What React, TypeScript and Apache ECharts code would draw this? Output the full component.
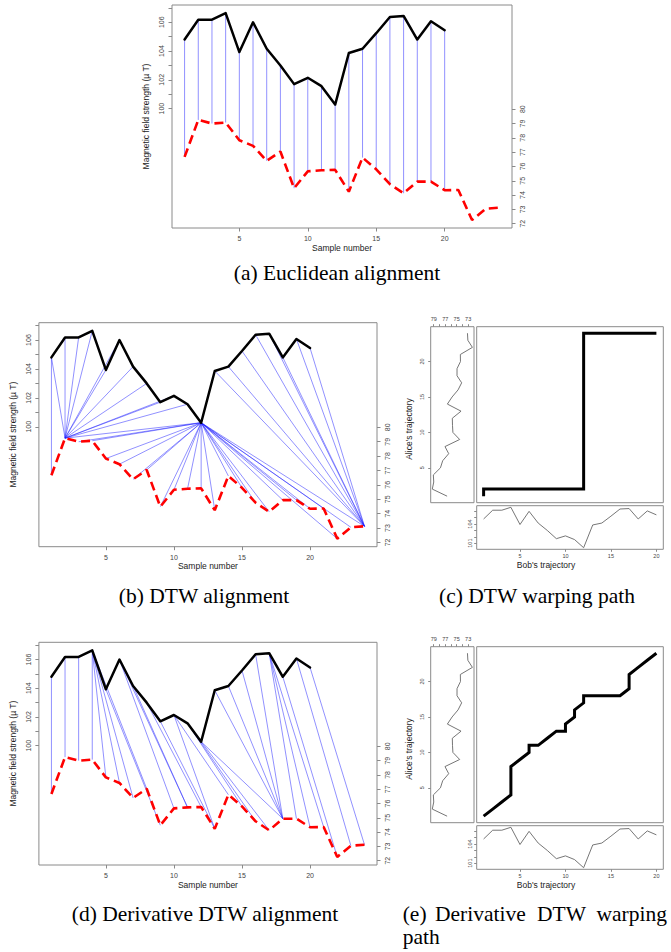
import React, { useEffect, useRef } from "react";
import * as echarts from "echarts";

// ---------------- data ----------------
const bobSamples = [1, 2, 3, 4, 5, 6, 7, 8, 9, 10, 11, 12, 13, 14, 15, 16, 17, 18, 19, 20];
const aliceSamples = [1, 2, 3, 4, 5, 6, 7, 8, 9, 10, 11, 12, 13, 14, 15, 16, 17, 18, 19, 20, 21, 22, 23, 24];

// Bob's trajectory (black, left axis, µT)
const bobField = [104.8, 106.18, 106.18, 106.64, 103.93, 106.0, 104.16, 103.0, 101.7, 102.14,
  101.56, 100.28, 103.86, 104.16, 105.24, 106.37, 106.44, 104.8, 106.07, 105.45];
// Alice's trajectory (red dashed, right axis, µT)
const aliceField = [76.67, 79.25, 79.0, 79.07, 77.83, 77.44, 76.39, 77.04, 74.48, 75.66,
  75.73, 75.76, 74.24, 76.62, 75.8, 74.76, 74.13, 74.94, 74.94, 74.34, 74.36, 72.26, 73.05, 73.12];

// Alignment pairs (Bob index -> Alice index)
const euclidBob = [1, 2, 3, 4, 5, 6, 7, 8, 9, 10, 11, 12, 13, 14, 15, 16, 17, 18, 19, 20];
const euclidAlice = [1, 2, 3, 4, 5, 6, 7, 8, 9, 10, 11, 12, 13, 14, 15, 16, 17, 18, 19, 20];

const dtwBob = [1, 1, 2, 3, 4, 5, 6, 7, 8, 9, 10, 11,
  12, 12, 12, 12, 12, 12, 12, 12, 12, 12, 12, 12, 12, 12, 12, 12, 12, 12, 12, 12, 12, 12, 12,
  13, 14, 15, 16, 17, 18, 19, 20];
const dtwAlice = [1, 2, 2, 2, 2, 2, 2, 2, 2, 2, 2, 2,
  2, 3, 4, 5, 6, 7, 8, 9, 10, 11, 12, 13, 14, 15, 16, 17, 18, 19, 20, 21, 22, 23, 24,
  24, 24, 24, 24, 24, 24, 24, 24];

const ddtwBob = [1, 2, 3, 4, 4, 4, 4, 4, 5, 6, 6, 7, 8, 9, 10, 10, 11, 11, 12, 12, 13, 14, 15, 16, 17, 17, 17, 18, 19, 20];
const ddtwAlice = [1, 2, 3, 4, 5, 6, 7, 8, 9, 10, 11, 11, 12, 13, 13, 14, 15, 16, 17, 18, 18, 18, 18, 18, 19, 20, 21, 22, 23, 24];

// Tick values / labels
const sampleTicks = [5, 10, 15, 20];
const leftTicks = [100, 101, 102, 103, 104, 105, 106, 107];
const leftLabels = [100, 102, 104, 106];
const rightTicks = [72, 73, 74, 75, 76, 77, 78, 79, 80];
const aliceTicks = [73, 74, 75, 76, 77, 78, 79];
const aliceLabels = [73, 75, 77, 79];
const indexTicks = [5, 10, 15, 20];
const bobTicks = [101, 102, 103, 104, 105, 106];
const bobLabels = [101, 104];

// ---------------- styles ----------------
const SANS = "'Liberation Sans', Arial, Helvetica, sans-serif";
const SERIF = "'Liberation Serif', 'Times New Roman', serif";
const BOX = "#8a8a8a";
const LABEL = "#444";
const TITLE = "#222";
const CAP = 21.5;

const X_MIN = 0.08, X_MAX = 24.92;
const L_MIN = 91.7, L_MAX = 107.2;
const R_MIN = 71.7, R_MAX = 87.28;

const toLeft = (a: number) => L_MIN + ((a - R_MIN) * (L_MAX - L_MIN)) / (R_MAX - R_MIN);

function tickAxisCommon(ticks: number[], labels: number[], fontSize: number, margin: number, rotate = 0, tickLen = 3.5) {
  return {
    axisLine: { show: false },
    splitLine: { show: false },
    axisTick: { show: true, customValues: ticks, length: tickLen, lineStyle: { color: BOX, width: 1 } },
    axisLabel: {
      show: true, customValues: labels, fontSize, margin, rotate,
      color: LABEL, fontFamily: SANS,
    },
  };
}

function buildOption() {
  const grid: any[] = [];
  const xAxis: any[] = [];
  const yAxis: any[] = [];
  const series: any[] = [];

  const alignPanels = [
    { left: 172, top: 5, width: 340, height: 223, pb: euclidBob, pa: euclidAlice },
    { left: 36, top: 322.7, width: 341, height: 224, pb: dtwBob, pa: dtwAlice },
    { left: 36, top: 642.3, width: 341, height: 222.7, pb: ddtwBob, pa: ddtwAlice },
  ];

  alignPanels.forEach((p) => {
    const gi = grid.length;
    grid.push({
      left: p.left, top: p.top, width: p.width, height: p.height,
      show: true, borderColor: BOX, borderWidth: 1, backgroundColor: "transparent",
    });
    const xi = xAxis.length;
    xAxis.push({
      type: "value", gridIndex: gi, min: X_MIN, max: X_MAX,
      ...tickAxisCommon(sampleTicks, sampleTicks, 7, 7),
      name: "Sample number", nameLocation: "middle", nameGap: 15,
      nameTextStyle: { fontSize: 8.5, fontFamily: SANS, color: TITLE },
    });
    const yl = yAxis.length;
    yAxis.push({
      type: "value", gridIndex: gi, position: "left", min: L_MIN, max: L_MAX,
      ...tickAxisCommon(leftTicks, leftLabels, 7, 7, 90),
      name: "Magnetic field strength (\u00b5 T)", nameLocation: "middle", nameGap: 19,
      nameTextStyle: { fontSize: 8.5, fontFamily: SANS, color: TITLE },
    });
    const yr = yAxis.length;
    yAxis.push({
      type: "value", gridIndex: gi, position: "right", min: R_MIN, max: R_MAX,
      ...tickAxisCommon(rightTicks, rightTicks, 7, 7, 90),
    });

    const pairs = p.pb.map((b, k) => [b, p.pa[k]]);
    series.push({
      type: "custom", xAxisIndex: xi, yAxisIndex: yl, silent: true, z: 1,
      data: pairs,
      renderItem: (_params: any, api: any) => {
        const i = api.value(0);
        const j = api.value(1);
        const p1 = api.coord([bobSamples[i - 1], bobField[i - 1]]);
        const p2 = api.coord([aliceSamples[j - 1], toLeft(aliceField[j - 1])]);
        return {
          type: "line",
          shape: { x1: p1[0], y1: p1[1], x2: p2[0], y2: p2[1] },
          style: { stroke: "rgba(30,30,255,0.55)", lineWidth: 0.9 },
        };
      },
    });
    series.push({
      type: "line", xAxisIndex: xi, yAxisIndex: yl, z: 3, silent: true,
      data: bobField.map((v, i) => [bobSamples[i], v]),
      symbol: "none", lineStyle: { color: "#000", width: 2.5, cap: "round", join: "round" },
    });
    series.push({
      type: "line", xAxisIndex: xi, yAxisIndex: yr, z: 3, silent: true,
      data: aliceField.map((v, i) => [aliceSamples[i], v]),
      symbol: "none", lineStyle: { color: "#ff0000", width: 2.6, type: [9, 5] },
    });
  });

  const warpPanels = [
    { dy: 0, pb: dtwBob, pa: dtwAlice },
    { dy: 320, pb: ddtwBob, pa: ddtwAlice },
  ];

  warpPanels.forEach((w) => {
    const top = 326.7 + w.dy;
    // left sub-panel: Alice's trajectory
    const g1 = grid.length;
    grid.push({ left: 430.7, top, width: 43.3, height: 176, show: true, borderColor: BOX, borderWidth: 1, backgroundColor: "transparent" });
    const x1 = xAxis.length;
    xAxis.push({
      type: "value", gridIndex: g1, position: "top", inverse: true, min: 71.98, max: 79.53,
      ...tickAxisCommon(aliceTicks, aliceLabels, 5.5, 5, 0, 2.5),
    });
    const y1 = yAxis.length;
    yAxis.push({
      type: "value", gridIndex: g1, min: X_MIN, max: X_MAX,
      ...tickAxisCommon(indexTicks, indexTicks, 5.5, 6, 90, 2.5),
    });
    series.push({
      type: "line", xAxisIndex: x1, yAxisIndex: y1, silent: true,
      data: aliceField.map((v, i) => [v, aliceSamples[i]]),
      symbol: "none", lineStyle: { color: "#666", width: 0.9 },
    });

    // main panel: warping path
    const g2 = grid.length;
    grid.push({ left: 476.7, top, width: 186.6, height: 176, show: true, borderColor: BOX, borderWidth: 1, backgroundColor: "transparent" });
    const x2 = xAxis.length;
    xAxis.push({ type: "value", gridIndex: g2, min: 0.24, max: 20.76, show: false });
    const y2 = yAxis.length;
    yAxis.push({ type: "value", gridIndex: g2, min: X_MIN, max: X_MAX, show: false });
    series.push({
      type: "line", xAxisIndex: x2, yAxisIndex: y2, silent: true,
      data: w.pb.map((b, k) => [b, w.pa[k]]),
      symbol: "none", lineStyle: { color: "#000", width: 3, join: "miter" },
    });

    // bottom sub-panel: Bob's trajectory
    const g3 = grid.length;
    grid.push({ left: 476.7, top: 505.7 + w.dy, width: 186.6, height: 43.6, show: true, borderColor: BOX, borderWidth: 1, backgroundColor: "transparent" });
    const x3 = xAxis.length;
    xAxis.push({
      type: "value", gridIndex: g3, min: 0.24, max: 20.76,
      ...tickAxisCommon(indexTicks, indexTicks, 5.5, 4, 0, 2.5),
    });
    const y3 = yAxis.length;
    yAxis.push({
      type: "value", gridIndex: g3, min: 100.03, max: 106.89,
      ...tickAxisCommon(bobTicks, bobLabels, 5.5, 4, 90, 2.5),
    });
    series.push({
      type: "line", xAxisIndex: x3, yAxisIndex: y3, silent: true,
      data: bobField.map((v, i) => [bobSamples[i], v]),
      symbol: "none", lineStyle: { color: "#666", width: 0.9 },
    });
  });

  const txt = (text: string, x: number, y: number, opts: any = {}) => ({
    type: "text", x, y, silent: true, rotation: opts.rotation || 0,
    style: {
      text, fontSize: opts.fontSize || CAP, fontFamily: opts.fontFamily || SERIF,
      fill: opts.fill || "#000", align: opts.align || "center", verticalAlign: "middle",
    },
  });

  const graphic = [
    txt("Alice's trajectory", 409, 429, { fontSize: 8.5, fontFamily: SANS, fill: TITLE, rotation: Math.PI / 2 }),
    txt("Bob's trajectory", 546, 565, { fontSize: 8.5, fontFamily: SANS, fill: TITLE }),
    txt("Alice's trajectory", 409, 749, { fontSize: 8.5, fontFamily: SANS, fill: TITLE, rotation: Math.PI / 2 }),
    txt("Bob's trajectory", 546, 885, { fontSize: 8.5, fontFamily: SANS, fill: TITLE }),
    txt("(a) Euclidean alignment", 337, 273),
    txt("(b) DTW alignment", 204, 596),
    txt("(c) DTW warping path", 537, 596),
    txt("(d) Derivative DTW alignment", 205, 914),
    txt("(e)", 402.7, 914, { align: "left" }),
    txt("Derivative", 435, 914, { align: "left" }),
    txt("DTW", 537, 914, { align: "left" }),
    txt("warping", 667, 914, { align: "right" }),
    txt("path", 402.7, 937, { align: "left" }),
  ];

  return {
    animation: false,
    backgroundColor: "#fff",
    grid, xAxis, yAxis, series, graphic,
  };
}

export default function App() {
  const ref = useRef<HTMLDivElement>(null);
  useEffect(() => {
    if (!ref.current) return;
    const chart = echarts.init(ref.current, undefined, { renderer: "svg" });
    chart.setOption(buildOption() as any);
    return () => chart.dispose();
  }, []);
  return (
    <div
      ref={ref}
      style={{ position: "absolute", left: 0, top: 0, width: 671, height: 952, background: "#fff" }}
    />
  );
}
